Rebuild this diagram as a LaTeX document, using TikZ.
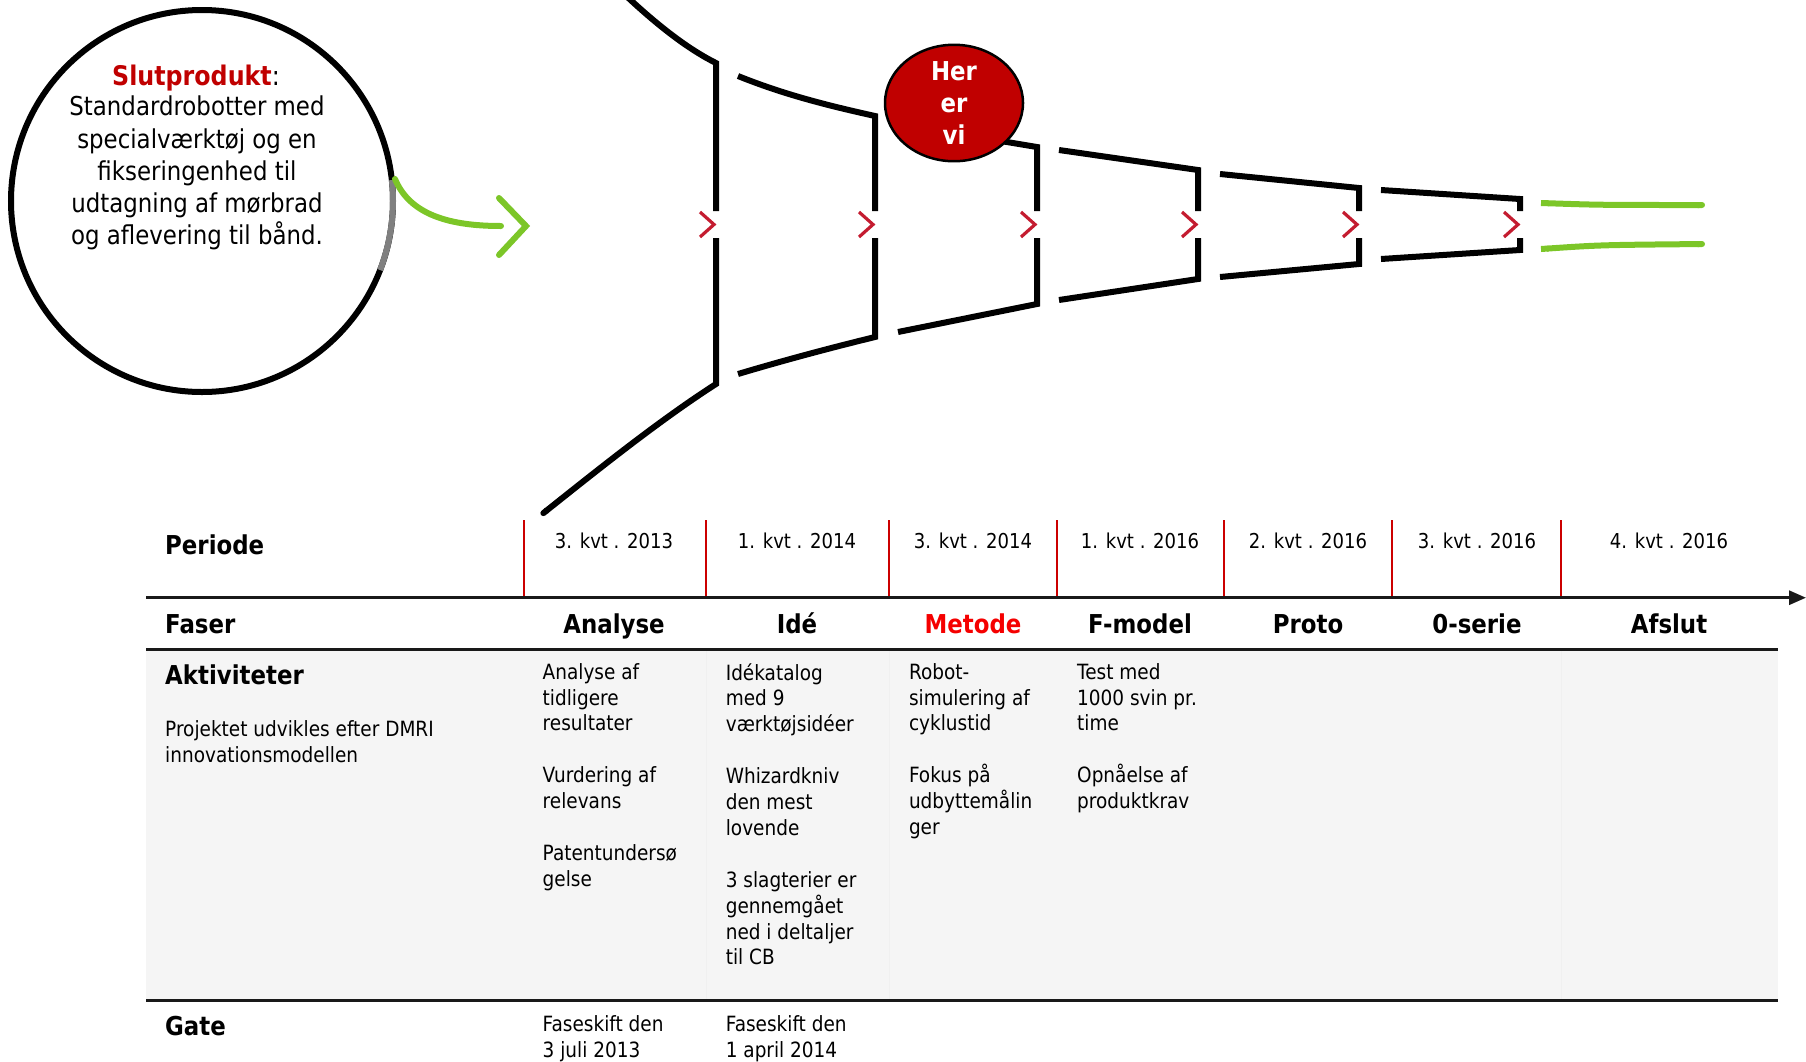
\documentclass[tikz,border=0pt]{standalone}
\usepackage{fontspec}
\setmainfont{DejaVu Sans}[FakeStretch=0.88]
\usetikzlibrary{arrows.meta,shapes.geometric}
\definecolor{darkred}{RGB}{192,0,0}
\definecolor{chevred}{RGB}{196,28,48}
\definecolor{grn}{RGB}{124,198,40}
\definecolor{redline}{RGB}{204,0,0}
\definecolor{cellgray}{RGB}{245,245,245}
\definecolor{metred}{RGB}{245,0,0}
\begin{document}
\begin{tikzpicture}[x=1pt,y=-1pt,
  funnel/.style={line width=6pt,line cap=butt,line join=miter},
  chev/.style={draw=chevred,line width=3.2pt,line cap=butt,line join=miter},
  gline/.style={draw=grn,line width=6pt},
  redv/.style={draw=redline,line width=2pt},
  tline/.style={line width=3pt,draw=black!90},
  head/.style={font=\bfseries\fontsize{26}{30}\selectfont,inner sep=0pt,anchor=base west},
  phase/.style={font=\bfseries\fontsize{26}{30}\selectfont,inner sep=0pt,anchor=base},
  datest/.style={font=\fontsize{20.5}{25}\selectfont,inner sep=0pt,anchor=base},
  cell/.style={font=\fontsize{21}{25.9}\selectfont,align=left,inner sep=0pt,anchor=north west},
]
\useasboundingbox (0,0) rectangle (1806,1061);

% ---------- product circle ----------
\node[circle,draw,line width=6pt,minimum size=382pt,inner sep=0pt] (prod) at (202,201) {};
\draw[line width=6pt,draw=black!50] (202,201) ++(-6.3:191) arc[start angle=-6.3,end angle=21.2,radius=191];
\node[inner sep=0pt,anchor=base,font=\fontsize{27}{32}\selectfont] (title) at (196,85)
  {\textcolor{darkred}{\bfseries Slutprodukt}:};
\node[inner sep=0pt,anchor=north,align=center,font=\fontsize{26}{32.2}\selectfont] (body) at (197,96)
  {Standardrobotter med\\specialværktøj og en\\fikseringenhed til\\udtagning af mørbrad\\og aflevering til bånd.};

% green arrow out of the circle
\coordinate (gs) at (395,179);
\coordinate (ge) at (501,226);
\draw[gline,line cap=round] (gs) .. controls (410,215) and (450,226) .. (ge);
\draw[gline,line cap=round,line join=miter] (499,198) -- (526,226) -- (499,255);

% ---------- funnel ----------
% segment 1
\draw[funnel] (622,-8) .. controls (660,28) and (690,50) .. (716,63) -- (716,211);
\draw[funnel,-{Round Cap}] (716,238) -- (716,384) .. controls (660,420) and (600,468) .. (541,515);
% segment 2
\draw[funnel] (738,76) .. controls (785,95) and (830,106) .. (875,116) -- (875,211);
\draw[funnel] (875,238) -- (875,337) .. controls (830,348) and (785,360) .. (738,374);
% segment 3
\draw[funnel] (898,124) -- (1037,147) -- (1037,211);
\draw[funnel] (1037,238) -- (1037,304) -- (898,332);
% segment 4
\draw[funnel] (1059,150) -- (1198,170) -- (1198,211);
\draw[funnel] (1198,238) -- (1198,279) -- (1059,300);
% segment 5
\draw[funnel] (1220,174) -- (1359,188) -- (1359,211);
\draw[funnel] (1359,238) -- (1359,264) -- (1220,277);
% segment 6
\draw[funnel] (1381,190) -- (1520,199) -- (1520,211);
\draw[funnel] (1520,238) -- (1520,250) -- (1381,259);
% green end
\draw[gline,{Butt Cap}-{Round Cap}] (1541,203) .. controls (1600,205) .. (1705,205);
\draw[gline,{Butt Cap}-{Round Cap}] (1541,249) .. controls (1600,245) .. (1705,244);
% chevrons
\foreach \x in {716,875,1037,1198,1359,1520}
  \draw[chev] (\x-16,212) -- (\x-2,224.5) -- (\x-16,237);

% "Her er vi"
\node[ellipse,draw=black,line width=2.5pt,fill=darkred,minimum width=138pt,minimum height=110pt,inner sep=0pt,
      text=white,align=center,font=\bfseries\fontsize{26}{31.7}\selectfont] (here) at (954,103) {Her\\er\\vi};

% ---------- table ----------
\fill[cellgray] (146,649) rectangle (1778,1000);
\foreach \x in {706,889,1561}
  \draw[black!6,line width=1pt] (\x,649) -- (\x,1000);
\foreach \x in {524,706,889,1057,1224,1392,1561}
  \draw[redv] (\x,520) -- (\x,597);
\coordinate (axL) at (146,597.7);
\coordinate (axR) at (1806,597.7);
\draw[tline,-{Triangle[length=17pt,width=14pt]}] (axL) -- (axR);
\draw[tline] (146,649) -- (1778,649);
\draw[tline] (146,1000) -- (1778,1000);

\node[head] (hper) at (165,554) {Periode};
\node[head] (hfas) at (165,633.7) {Faser};
\node[head] (hakt) at (165,684.4) {Aktiviteter};
\node[head] (hgat) at (165,1035.4) {Gate};
\node[cell] (proj) at (165,720) {Projektet udvikles efter DMRI\\innovationsmodellen};

\node[datest] (d1) at (614,548.7) {3. kvt . 2013};
\node[datest] (d2) at (797,548.7) {1. kvt . 2014};
\node[datest] (d3) at (973,548.7) {3. kvt . 2014};
\node[datest] (d4) at (1140,548.7) {1. kvt . 2016};
\node[datest] (d5) at (1308,548.7) {2. kvt . 2016};
\node[datest] (d6) at (1477,548.7) {3. kvt . 2016};
\node[datest] (d7) at (1669,548.7) {4. kvt . 2016};

\node[phase] (f1) at (614,633.7) {Analyse};
\node[phase] (f2) at (797,633.7) {Idé};
\node[phase,text=metred] (f3) at (973,633.7) {Metode};
\node[phase] (f4) at (1140,633.7) {F-model};
\node[phase] (f5) at (1308,633.7) {Proto};
\node[phase] (f6) at (1477,633.7) {0-serie};
\node[phase] (f7) at (1669,633.7) {Afslut};

\node[cell] (c1) at (542.5,663) {Analyse af\\tidligere\\resultater\\[25.9pt]Vurdering af\\relevans\\[25.9pt]Patentundersø\\gelse};
\node[cell] (c2) at (725.6,663) {Idékatalog\\med 9\\værktøjsidéer\\[25.9pt]Whizardkniv\\den mest\\lovende\\[25.9pt]3 slagterier er\\gennemgået\\ned i deltaljer\\til CB};
\node[cell] (c3) at (908.8,663) {Robot-\\simulering af\\cyklustid\\[25.9pt]Fokus på\\udbyttemålin\\ger};
\node[cell] (c4) at (1077,663) {Test med\\1000 svin pr.\\time\\[25.9pt]Opnåelse af\\produktkrav};

\node[cell] (g1) at (542.5,1015.5) {Faseskift den\\3 juli 2013};
\node[cell] (g2) at (725.6,1015.5) {Faseskift den\\1 april 2014};
\end{tikzpicture}
\end{document}
